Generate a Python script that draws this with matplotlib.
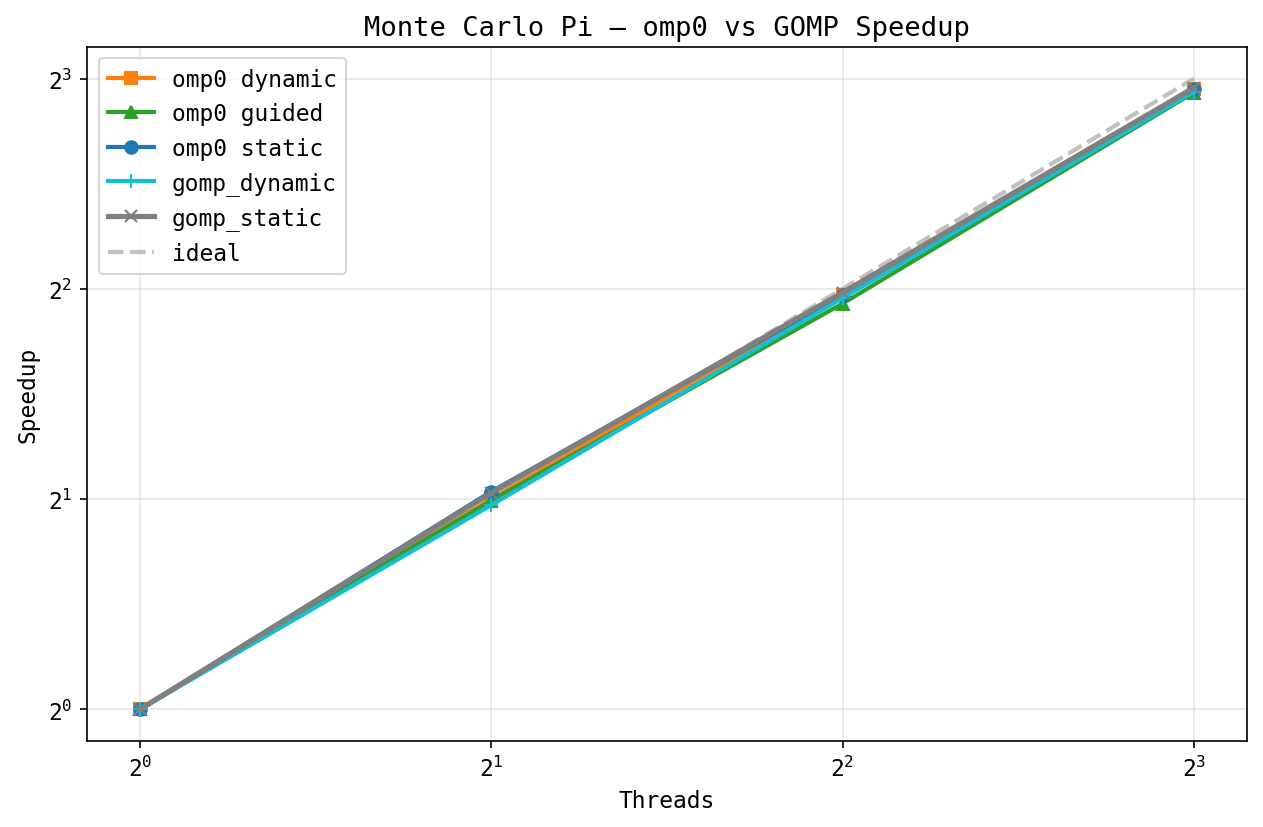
import matplotlib
matplotlib.use("Agg")
import matplotlib.pyplot as plt

plt.rcParams['font.family'] = ['DejaVu Sans Mono', 'DejaVu Sans']

threads = [1, 2, 4, 8]
omp0_dynamic = [1.0, 2.00, 3.92, 7.74]
omp0_guided = [1.0, 1.99, 3.81, 7.64]
omp0_static = [1.0, 2.05, 3.92, 7.74]
gomp_dynamic = [1.0, 1.96, 3.88, 7.66]
gomp_static = [1.0, 2.04, 3.95, 7.76]
ideal = [1, 2, 4, 8]

fig, ax = plt.subplots(figsize=(8.42, 5.52), dpi=150)
fig.subplots_adjust(left=0.069, right=0.987, top=0.942, bottom=0.104)

ax.plot(threads, omp0_dynamic, marker='s', color='tab:orange', lw=2, ms=6, label='omp0 dynamic')
ax.plot(threads, omp0_guided, marker='^', color='tab:green', lw=2, ms=6, label='omp0 guided')
ax.plot(threads, omp0_static, marker='o', color='tab:blue', lw=2, ms=6, label='omp0 static')
ax.plot(threads, gomp_dynamic, marker='+', color='tab:cyan', lw=2, ms=7, label='gomp_dynamic')
ax.plot(threads, gomp_static, marker='x', color='tab:gray', lw=2.5, ms=6, label='gomp_static')
# ideal line sits underneath the measured curves
ax.plot(threads, ideal, '--', color='#c0c0c0', lw=2, label='ideal', zorder=1)

ax.set_xscale('log', base=2)
ax.set_yscale('log', base=2)
ax.set_xlabel('Threads', fontsize=11)
ax.set_ylabel('Speedup', fontsize=11)
ax.set_title('Monte Carlo Pi — omp0 vs GOMP Speedup', fontsize=13)
ax.tick_params(labelsize=11)
ax.grid(True, alpha=0.3)
ax.legend(loc='upper left', fontsize=11)

fig.savefig('out.png', dpi=150)
